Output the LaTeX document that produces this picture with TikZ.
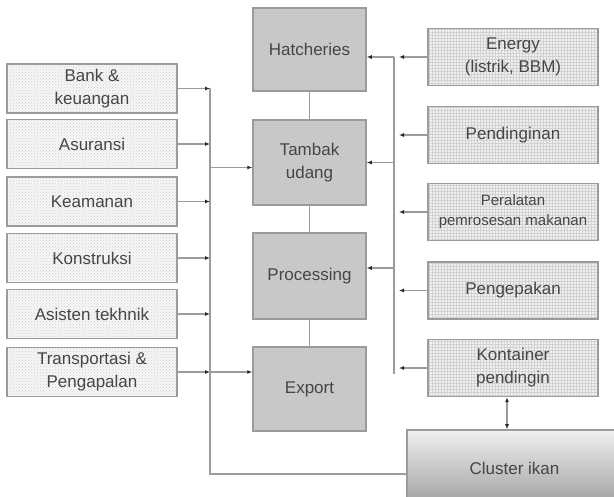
\documentclass[tikz,border=0pt]{standalone}
\usepackage{fontspec}
\setmainfont{Liberation Sans}
\usepackage{tikz}
\usetikzlibrary{positioning, arrows.meta, patterns}
\usepackage{xcolor}
\definecolor{boxgray}{RGB}{200, 200, 200}
\definecolor{linegray}{RGB}{155, 155, 155}
\definecolor{textgray}{RGB}{70, 70, 70}
\definecolor{tipgray}{RGB}{40, 40, 40}

\begin{document}
\begin{tikzpicture}[x=1pt, y=-1pt,
    supportbox/.style={draw=linegray, line width=1.5pt, preaction={fill=gray!6},
        pattern=crosshatch dots, pattern color=gray!40,
        minimum width=170pt, minimum height=49pt, align=center,
        text=textgray, font=\fontsize{17}{23}\selectfont},
    inputbox/.style={draw=linegray, line width=1.5pt, preaction={fill=gray!12},
        pattern=grid, pattern color=gray!35,
        minimum width=170pt, minimum height=57pt, align=center,
        text=textgray, font=\fontsize{17}{23}\selectfont},
    chainbox/.style={draw=linegray, line width=1.5pt, fill=boxgray,
        minimum width=113pt, minimum height=85pt, align=center,
        text=textgray, font=\fontsize{17}{23}\selectfont},
    link/.style={draw=linegray, line width=1.5pt},
    arr/.style={link, -{Latex[length=5pt, width=4pt, color=tipgray]}},
    darr/.style={link, {Latex[length=5pt, width=4pt, color=tipgray]}-{Latex[length=5pt, width=4pt, color=tipgray]}}
]
    % Page frame
    \useasboundingbox (0,0) rectangle (614,497);
    \clip (0,0) rectangle (614,497);

    % Bus lines
    \coordinate (lbus) at (210,0);
    \coordinate (rbus) at (394,0);

    % Supporting services (left)
    \node[supportbox] (bank) at (92,88.5) {Bank \&\\keuangan};
    \node[supportbox] (asuransi) at (92,144) {Asuransi};
    \node[supportbox] (keamanan) at (92,201.5) {Keamanan};
    \node[supportbox] (konstruksi) at (92,258) {Konstruksi};
    \node[supportbox] (asisten) at (92,314) {Asisten tekhnik};
    \node[supportbox] (transport) at (92,372) {Transportasi \&\\Pengapalan};

    % Value chain (centre)
    \node[chainbox, minimum height=83pt] (hatch) at (309.5,49.5) {Hatcheries};
    \node[chainbox] (tambak) at (309.5,162.5) {Tambak\\udang};
    \node[chainbox, minimum height=86pt] (proc) at (309.5,276) {Processing};
    \node[chainbox, minimum height=84pt] (export) at (309.5,389) {Export};

    % Inputs (right)
    \node[inputbox] (energy) at (513,57) {Energy\\(listrik, BBM)};
    \node[inputbox] (pendingin) at (513,135) {Pendinginan};
    \node[inputbox, font=\fontsize{15}{20}\selectfont] (peralatan) at (513,212) {Peralatan\\pemrosesan makanan};
    \node[inputbox] (pengepakan) at (513,290.5) {Pengepakan};
    \node[inputbox] (kontainer) at (513,368) {Kontainer\\pendingin};

    % Cluster
    \node[draw=linegray, line width=1.5pt, top color=gray!12, bottom color=gray!75,
        minimum width=215pt, minimum height=76pt,
        text=textgray, font=\fontsize{17}{23}\selectfont] (cluster) at (514.5,468) {Cluster ikan};

    % Chain links
    \draw[link] (hatch) -- (tambak);
    \draw[link] (tambak) -- (proc);
    \draw[link] (proc) -- (export);

    % Left side into bus
    \foreach \n in {bank, asuransi, keamanan, konstruksi, asisten, transport} {
        \draw[arr] (\n.east) -- (\n.east -| lbus);
    }
    \coordinate (clin) at ([yshift=-6pt]cluster.west);
    \draw[link] (bank.east -| lbus) -- (clin -| lbus) -- (clin);
    \coordinate (tambin) at ([yshift=-5pt]tambak.west);
    \draw[arr] (tambin -| lbus) -- (tambin);
    \draw[arr] (transport.east -| lbus) -- (export.west |- transport.east);

    % Right side into bus
    \foreach \n in {energy, pendingin, peralatan, pengepakan, kontainer} {
        \draw[arr] (\n.west) -- ([xshift=5pt]\n.west -| rbus);
    }
    \draw[link] (energy.west -| rbus) -- ([yshift=-6pt]kontainer.west -| rbus);
    \draw[arr] (energy.west -| rbus) -- (hatch.east |- energy.west);
    \draw[arr] (tambak.east -| rbus) -- (tambak.east);
    \coordinate (procin) at ([yshift=8pt]proc.east);
    \draw[arr] (procin -| rbus) -- (procin);

    % Kontainer to cluster
    \coordinate (kbot) at ([xshift=-6pt]kontainer.south);
    \draw[darr] (kbot) -- (kbot |- cluster.north);
\end{tikzpicture}
\end{document}
